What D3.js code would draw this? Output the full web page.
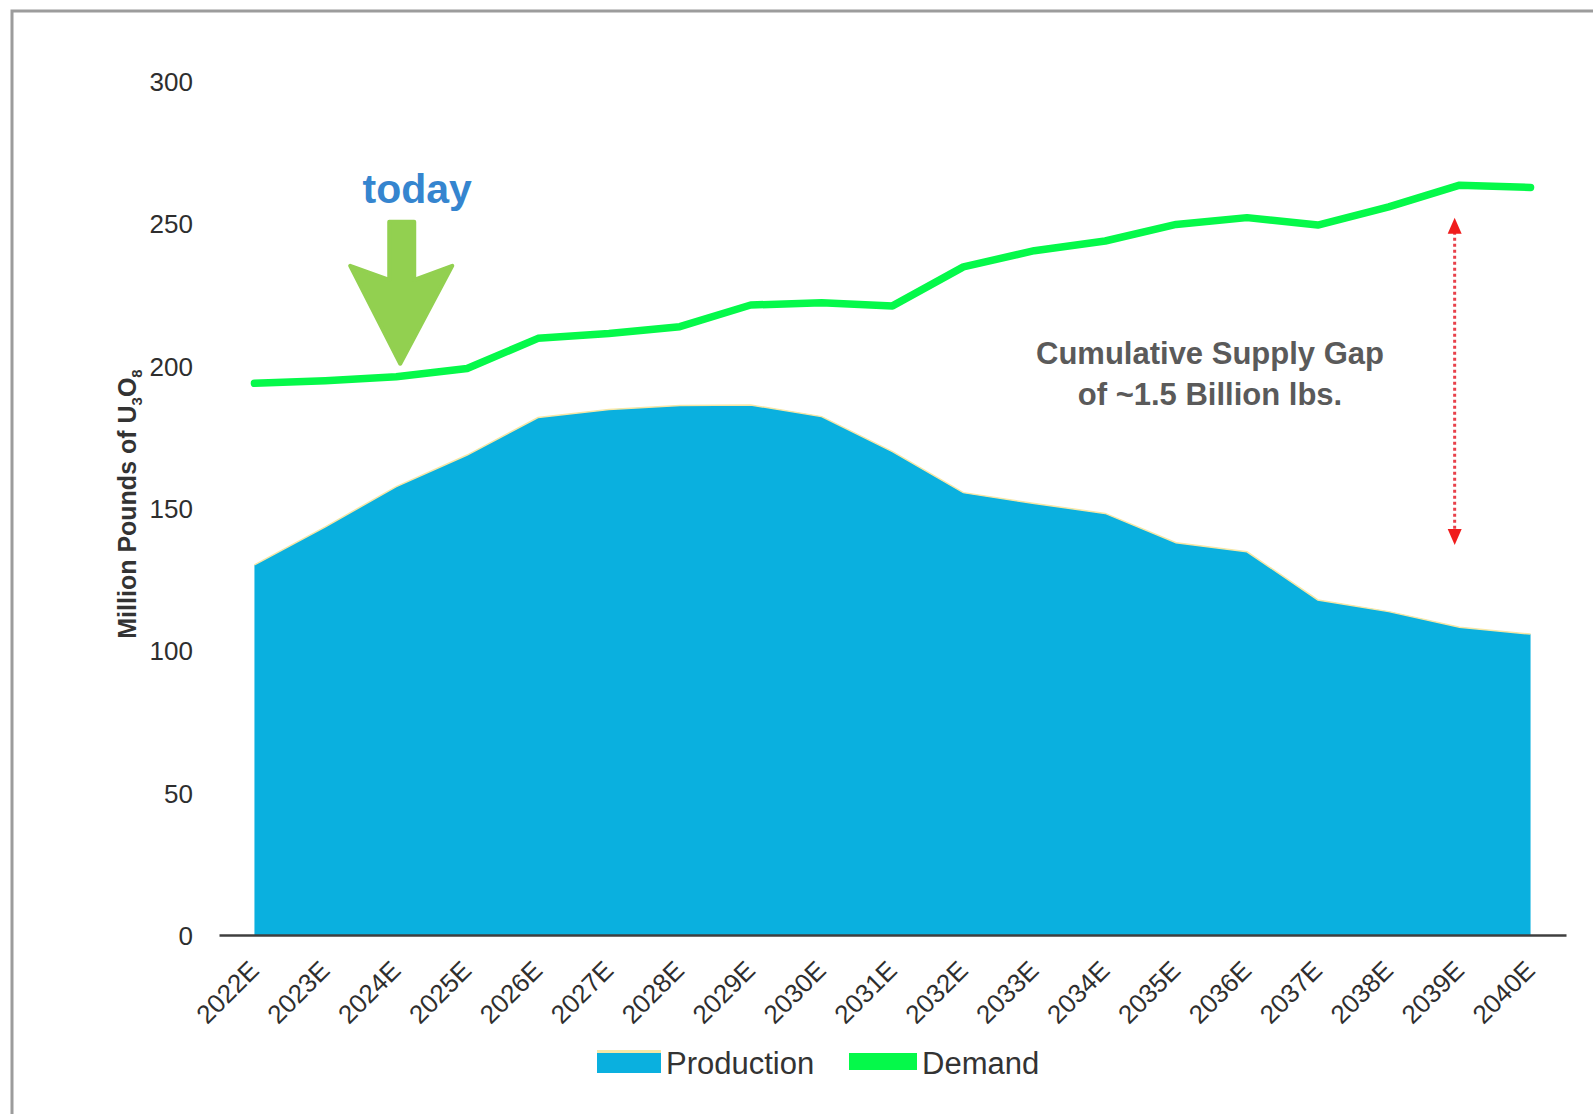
<!DOCTYPE html>
<html>
<head>
<meta charset="utf-8">
<script src="https://cdn.jsdelivr.net/npm/d3@7"></script>
<style>
  body { margin: 0; background: #fff; }
  svg { display: block; font-family: "Liberation Sans", Arial, sans-serif; }
</style>
</head>
<body>
<svg id="chart" width="1593" height="1114"></svg>
<script>
// values (million lbs U3O8)
var years = ["2022E", "2023E", "2024E", "2025E", "2026E", "2027E", "2028E", "2029E", "2030E", "2031E",
    "2032E", "2033E", "2034E", "2035E", "2036E", "2037E", "2038E", "2039E", "2040E"];
var production = [130.0, 143.4, 157.5, 168.6, 181.8, 184.6, 186.0, 186.2, 182.1, 169.8,
    155.4, 151.6, 148.1, 137.8, 134.6, 117.7, 113.6, 108.1, 105.7];
var demand = [193.8, 194.7, 196.1, 199.0, 209.6, 211.3, 213.7, 221.3, 222.1, 221.0,
    234.7, 240.4, 243.8, 249.6, 252.0, 249.4, 255.8, 263.4, 262.6];
var yTicks = [0, 50, 100, 150, 200, 250, 300];
var seriesNames = ["Production", "Demand"];
var todayYear = "2024E";
var gapText = ["Cumulative Supply Gap", "of ~1.5 Billion lbs."];
var gapRange = [252, 137];   // ends of the red double arrow, in axis units
var gapYear = "2039E";

var WIDTH = 1593, HEIGHT = 1114;
var MARGINS = { left: 219, right: 27, top: 81, bottom: 179 };

var COL_PROD = "#0ab0df";
var COL_PROD_EDGE = "#f6e7a6";
var COL_DEM = "#05f94a";
var COL_TEXT = "#333333";

var vis = d3.select("#chart");

/**
 * frame of the pasted picture (only top and left edges visible)
 */
vis.append("path")
    .attr("d", "M12," + HEIGHT + " V11 H" + WIDTH)
    .attr("fill", "none")
    .attr("stroke", "#9c9c9c")
    .attr("stroke-width", 3);

var xRange = d3.scaleBand().domain(years)
    .range([MARGINS.left, WIDTH - MARGINS.right]).padding(0);
var yRange = d3.scaleLinear().domain([0, 300])
    .range([HEIGHT - MARGINS.bottom, MARGINS.top]);

function cx(d) { return xRange(d) + xRange.bandwidth() / 2; }

// production area
var areaFunc = d3.area()
    .x(function (d, i) { return cx(years[i]); })
    .y0(yRange(0))
    .y1(function (d) { return yRange(d); });

vis.append("path")
    .datum(production)
    .attr("d", areaFunc)
    .attr("fill", COL_PROD);

var lineFunc = d3.line()
    .x(function (d, i) { return cx(years[i]); })
    .y(function (d) { return yRange(d); });

vis.append("path")
    .datum(production)
    .attr("d", lineFunc)
    .attr("fill", "none")
    .attr("stroke", COL_PROD_EDGE)
    .attr("stroke-width", 1.5);

// demand line
vis.append("path")
    .datum(demand)
    .attr("d", lineFunc)
    .attr("fill", "none")
    .attr("stroke", COL_DEM)
    .attr("stroke-width", 7.5)
    .attr("stroke-linecap", "round")
    .attr("stroke-linejoin", "round");

// y axis: labels only
var yAxis = d3.axisLeft(yRange).tickValues(yTicks).tickSize(0).tickPadding(0);
var y2 = vis.append("g")
    .attr("class", "yaxis")
    .attr("transform", "translate(193,0)")
    .call(yAxis);
y2.select(".domain").remove();
y2.selectAll("text")
    .attr("font-size", 26)
    .attr("font-family", "'Liberation Sans', Arial, sans-serif")
    .attr("fill", "#2e2e2e")
    .attr("dy", "0.36em");

// x axis
var xAxis = d3.axisBottom(xRange).tickSize(0).tickSizeOuter(0);
var x2 = vis.append("g")
    .attr("class", "xaxis")
    .attr("transform", "translate(0," + yRange(0) + ")")
    .call(xAxis);
x2.select(".domain").attr("stroke", "#3f3f3f").attr("stroke-width", 2.5);
x2.selectAll("text")
    .attr("font-size", 26)
    .attr("font-family", "'Liberation Sans', Arial, sans-serif")
    .attr("fill", "#2e2e2e")
    .attr("text-anchor", "end")
    .attr("y", 0).attr("dy", 0)
    .attr("transform", "translate(6,37) rotate(-45)");

// y label
var ylab = vis.append("text")
    .attr("transform", "translate(136,504) rotate(-90)")
    .attr("text-anchor", "middle")
    .attr("font-size", 25)
    .attr("font-weight", "bold")
    .attr("fill", COL_TEXT);
ylab.append("tspan").text("Million Pounds of U");
ylab.append("tspan").attr("font-size", 15).attr("dy", 6).text("3");
ylab.append("tspan").attr("dy", -6).text("O");
ylab.append("tspan").attr("font-size", 15).attr("dy", 6).text("8");

// "today" marker
var ti = years.indexOf(todayYear);
var tx = cx(todayYear) + 4, ty = yRange(demand[ti]) - 13;
var arrowPts = [[0, 0], [-50, -98], [-11, -84], [-11, -142], [14, -142], [14, -84], [52, -98]];
vis.append("polygon")
    .attr("points", arrowPts.map(function (p) { return (tx + p[0]) + "," + (ty + p[1]); }).join(" "))
    .attr("fill", "#92d050")
    .attr("stroke", "#92d050")
    .attr("stroke-width", 4)
    .attr("stroke-linejoin", "round");

vis.append("text")
    .attr("x", tx + 17)
    .attr("y", ty - 161)
    .attr("text-anchor", "middle")
    .attr("font-size", 41)
    .attr("font-weight", "bold")
    .attr("fill", "#3585cf")
    .text("today");

// supply gap annotation
vis.selectAll(".gaptext")
    .data(gapText)
    .enter().append("text")
    .attr("class", "gaptext")
    .attr("x", 1210)
    .attr("y", function (d, i) { return 364 + i * 41; })
    .attr("text-anchor", "middle")
    .attr("font-size", 31)
    .attr("font-weight", "bold")
    .attr("fill", "#5a5a5a")
    .text(function (d) { return d; });

var gx = cx(gapYear) - 5;
var gTop = yRange(gapRange[0]), gBot = yRange(gapRange[1]);
vis.append("line")
    .attr("x1", gx).attr("x2", gx)
    .attr("y1", gTop + 14).attr("y2", gBot - 14)
    .attr("stroke", "#e8404a")
    .attr("stroke-width", 3)
    .attr("stroke-dasharray", "3,3");
vis.append("polygon")
    .attr("points", [[gx, gTop], [gx - 7, gTop + 16], [gx + 7, gTop + 16]].join(" "))
    .attr("fill", "#f01c1c");
vis.append("polygon")
    .attr("points", [[gx, gBot], [gx - 7, gBot - 16], [gx + 7, gBot - 16]].join(" "))
    .attr("fill", "#f01c1c");

// legend
var legendPos = [{ x: 597, w: 64 }, { x: 849, w: 68 }];
var leg = vis.selectAll(".legend")
    .data(seriesNames)
    .enter().append("g")
    .attr("class", "legend")
    .attr("transform", function (d, i) { return "translate(" + legendPos[i].x + ",1053)"; });

leg.append("rect")
    .attr("x", 0).attr("y", 0)
    .attr("width", function (d, i) { return legendPos[i].w; })
    .attr("height", function (d, i) { return i === 0 ? 20 : 17; })
    .attr("fill", function (d, i) { return i === 0 ? COL_PROD : COL_DEM; });

leg.filter(function (d, i) { return i === 0; }).append("rect")
    .attr("x", 0).attr("y", -3)
    .attr("width", legendPos[0].w).attr("height", 3)
    .attr("fill", COL_PROD_EDGE);

leg.append("text")
    .attr("x", function (d, i) { return legendPos[i].w + 5; })
    .attr("y", 21)
    .attr("font-size", 31)
    .attr("fill", COL_TEXT)
    .text(function (d) { return d; });
</script>
</body>
</html>
